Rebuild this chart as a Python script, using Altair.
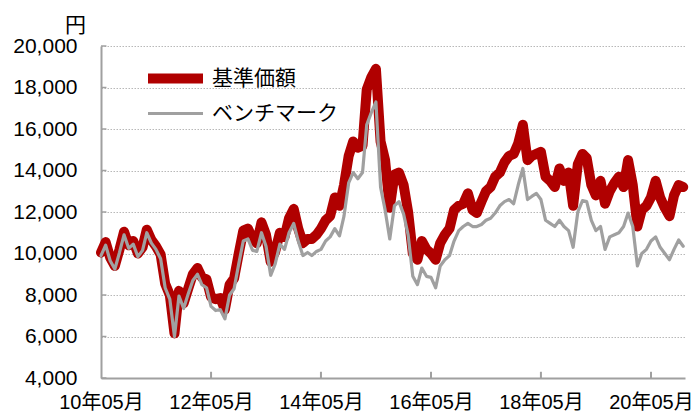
import altair as alt
import pandas as pd

# Monthly values, May 2010 -> Dec 2020
fund = [
    10050, 10550, 9800, 9400, 10200, 11050, 10400, 10600, 10000, 10300,
    11150, 10650, 10350, 9950, 8550, 8000, 6150, 8200, 7600, 8300,
    9000, 9300, 8850, 8750, 7900, 7800, 7850, 7300, 8500, 8800,
    10000, 11100, 11200, 10700, 10500, 11500, 10900, 9600, 10100, 11000,
    10800, 11700, 12150, 11200, 10500, 10700, 10700, 10900, 11200, 11600,
    11800, 12700, 12300, 13300, 14700, 15400, 15100, 15200, 17900, 18500,
    18900, 15400, 14500, 12200, 13800, 13900, 13300, 12000, 10000, 9700,
    10600, 10200, 10000, 9700, 10500, 10900, 11200, 12100, 12300, 12400,
    12900, 12100, 11950, 12500, 13000, 13200, 13700, 13900, 14400, 14700,
    14800, 15300, 16200, 14500, 14700, 14800, 14900, 13700, 13500, 13200,
    14100, 13500, 13900, 12300, 14300, 14800, 14600, 13300, 12800, 13500,
    12400, 13000, 13400, 13700, 13200, 14500, 13300, 11300, 12100, 12300,
    12700, 13500, 12700, 12200, 11800, 12800, 13300, 13200,
]
bench = [
    9900, 10400, 9650, 9250, 10050, 10900, 10250, 10450, 9850, 10150,
    11000, 10500, 10200, 9750, 8350, 7800, 6000, 7950, 7350, 8050,
    8700, 9000, 8500, 8350, 7450, 7250, 7300, 6850, 8000, 8300,
    9500, 10600, 10700, 10150, 10100, 11000, 10350, 8950, 9500, 10450,
    10200, 11000, 11450, 10600, 9900, 10050, 9900, 10100, 10200, 10600,
    10800, 11200, 10850, 11800, 13400, 13900, 13600, 13900, 16200, 16800,
    17300, 13200, 12100, 10700, 12300, 12500, 11900, 10900, 8900, 8500,
    9300, 8900, 8850, 8350, 9400, 9700, 9900, 10600, 11100, 11300,
    11450, 11300, 11300, 11400, 11600, 11700, 11950, 12300, 12500, 12600,
    12400, 13300, 14100, 12600, 12750, 12900, 12600, 11600, 11450, 11300,
    11600, 11300, 11100, 10300, 12000, 12550, 12500, 11600, 11100, 11300,
    10200, 10800, 10900, 11000, 11300, 11950, 11300, 9400, 10000, 10200,
    10600, 10800, 10300, 10000, 9700, 10200, 10650, 10350,
]
series_names = ["基準価額", "ベンチマーク"]
series_colors = ["#b00000", "#a0a0a0"]
x_tick_years = [2010, 2012, 2014, 2016, 2018, 2020]
y_ticks = [4000, 6000, 8000, 10000, 12000, 14000, 16000, 18000, 20000]

months = pd.date_range("2010-05-01", periods=len(fund), freq="MS").strftime("%Y-%m-%d").tolist()
n = len(fund)
df = pd.DataFrame({
    "date": months * 2,
    "value": fund + bench,
    "series": [series_names[0]] * n + [series_names[1]] * n,
})

FONT = "Liberation Sans, Arial, Noto Sans CJK JP"
AXIS_GRAY = "#a0a0a0"
FS = 21

legend = alt.Legend(
    orient="none", legendX=64, legendY=22, title=None,
    symbolType="M-5,0H5", symbolSize=121, labelOffset=26,
    labelFontSize=FS, labelFont=FONT, labelColor="black",
    rowPadding=3, padding=0,
)

x_enc = alt.X(
    "date:T",
    scale=alt.Scale(type="utc", domain=[alt.DateTime(year=2010, month=5, date=1, utc=True),
                                        alt.DateTime(year=2020, month=12, date=13, utc=True)]),
    axis=alt.Axis(
        values=[alt.DateTime(year=y, month=5, date=1, utc=True) for y in x_tick_years],
        labelExpr="utcFormat(datum.value, '%y年%m月')",
        title=None, grid=False, ticks=False, tickSize=0, labelPadding=14,
        labelFontSize=20, labelFont=FONT, labelColor="black",
        labelFlush=False, labelOverlap=False,
        domainColor=AXIS_GRAY, domainWidth=2,
    ),
)
y_enc = alt.Y(
    "value:Q",
    scale=alt.Scale(domain=[4000, 20000], nice=False, zero=False),
    axis=alt.Axis(
        values=y_ticks, format=",.0f", grid=True, gridColor="#b8b8b8", gridDash=[1.5, 1.5],
        gridWidth=1, ticks=False, tickSize=0, labelPadding=24,
        labelFontSize=FS, labelFont=FONT, labelColor="black", labelFlush=False,
        domainColor=AXIS_GRAY, domainWidth=2,
        title="円", titleAngle=0, titleX=-26, titleY=-15, titleAlign="center",
        titleBaseline="alphabetic", titleFontSize=FS, titleFontWeight="normal",
        titleFont=FONT, titleColor="black",
    ),
)
color_enc = alt.Color("series:N", scale=alt.Scale(domain=series_names, range=series_colors), legend=legend)
sw_enc = alt.StrokeWidth("series:N", scale=alt.Scale(domain=series_names, range=[10, 3.2]), legend=legend)

base = alt.Chart(df).mark_line(strokeJoin="round", strokeCap="round").encode(
    x=x_enc, y=y_enc, color=color_enc, strokeWidth=sw_enc
)
fund_line = base.transform_filter(alt.datum.series == series_names[0])
bench_line = base.transform_filter(alt.datum.series == series_names[1])

xt = pd.DataFrame({"date": [f"{y}-05-01" for y in x_tick_years[1:]]})
x_ticks = alt.Chart(xt).mark_rule(color=AXIS_GRAY, strokeWidth=2).encode(
    x="date:T", y=alt.datum(4000), y2=alt.datum(4300)
)
yt = pd.DataFrame({"value": y_ticks})
y_tick_rules = alt.Chart(yt).mark_rule(color=AXIS_GRAY, strokeWidth=1.5).encode(
    y="value:Q",
    x=alt.datum(alt.DateTime(year=2010, month=5, date=1, utc=True)),
    x2=alt.datum(alt.DateTime(year=2010, month=6, date=6, utc=True)),
)

chart = alt.layer(x_ticks, y_tick_rules, fund_line, bench_line).properties(
    width=584, height=332,
    autosize=alt.AutoSizeParams(type="none"),
    padding={"left": 101, "top": 46, "right": 8, "bottom": 36},
    background="white",
).configure_view(stroke=None)

chart.save("out.html", embed_options={"renderer": "svg", "actions": False})
